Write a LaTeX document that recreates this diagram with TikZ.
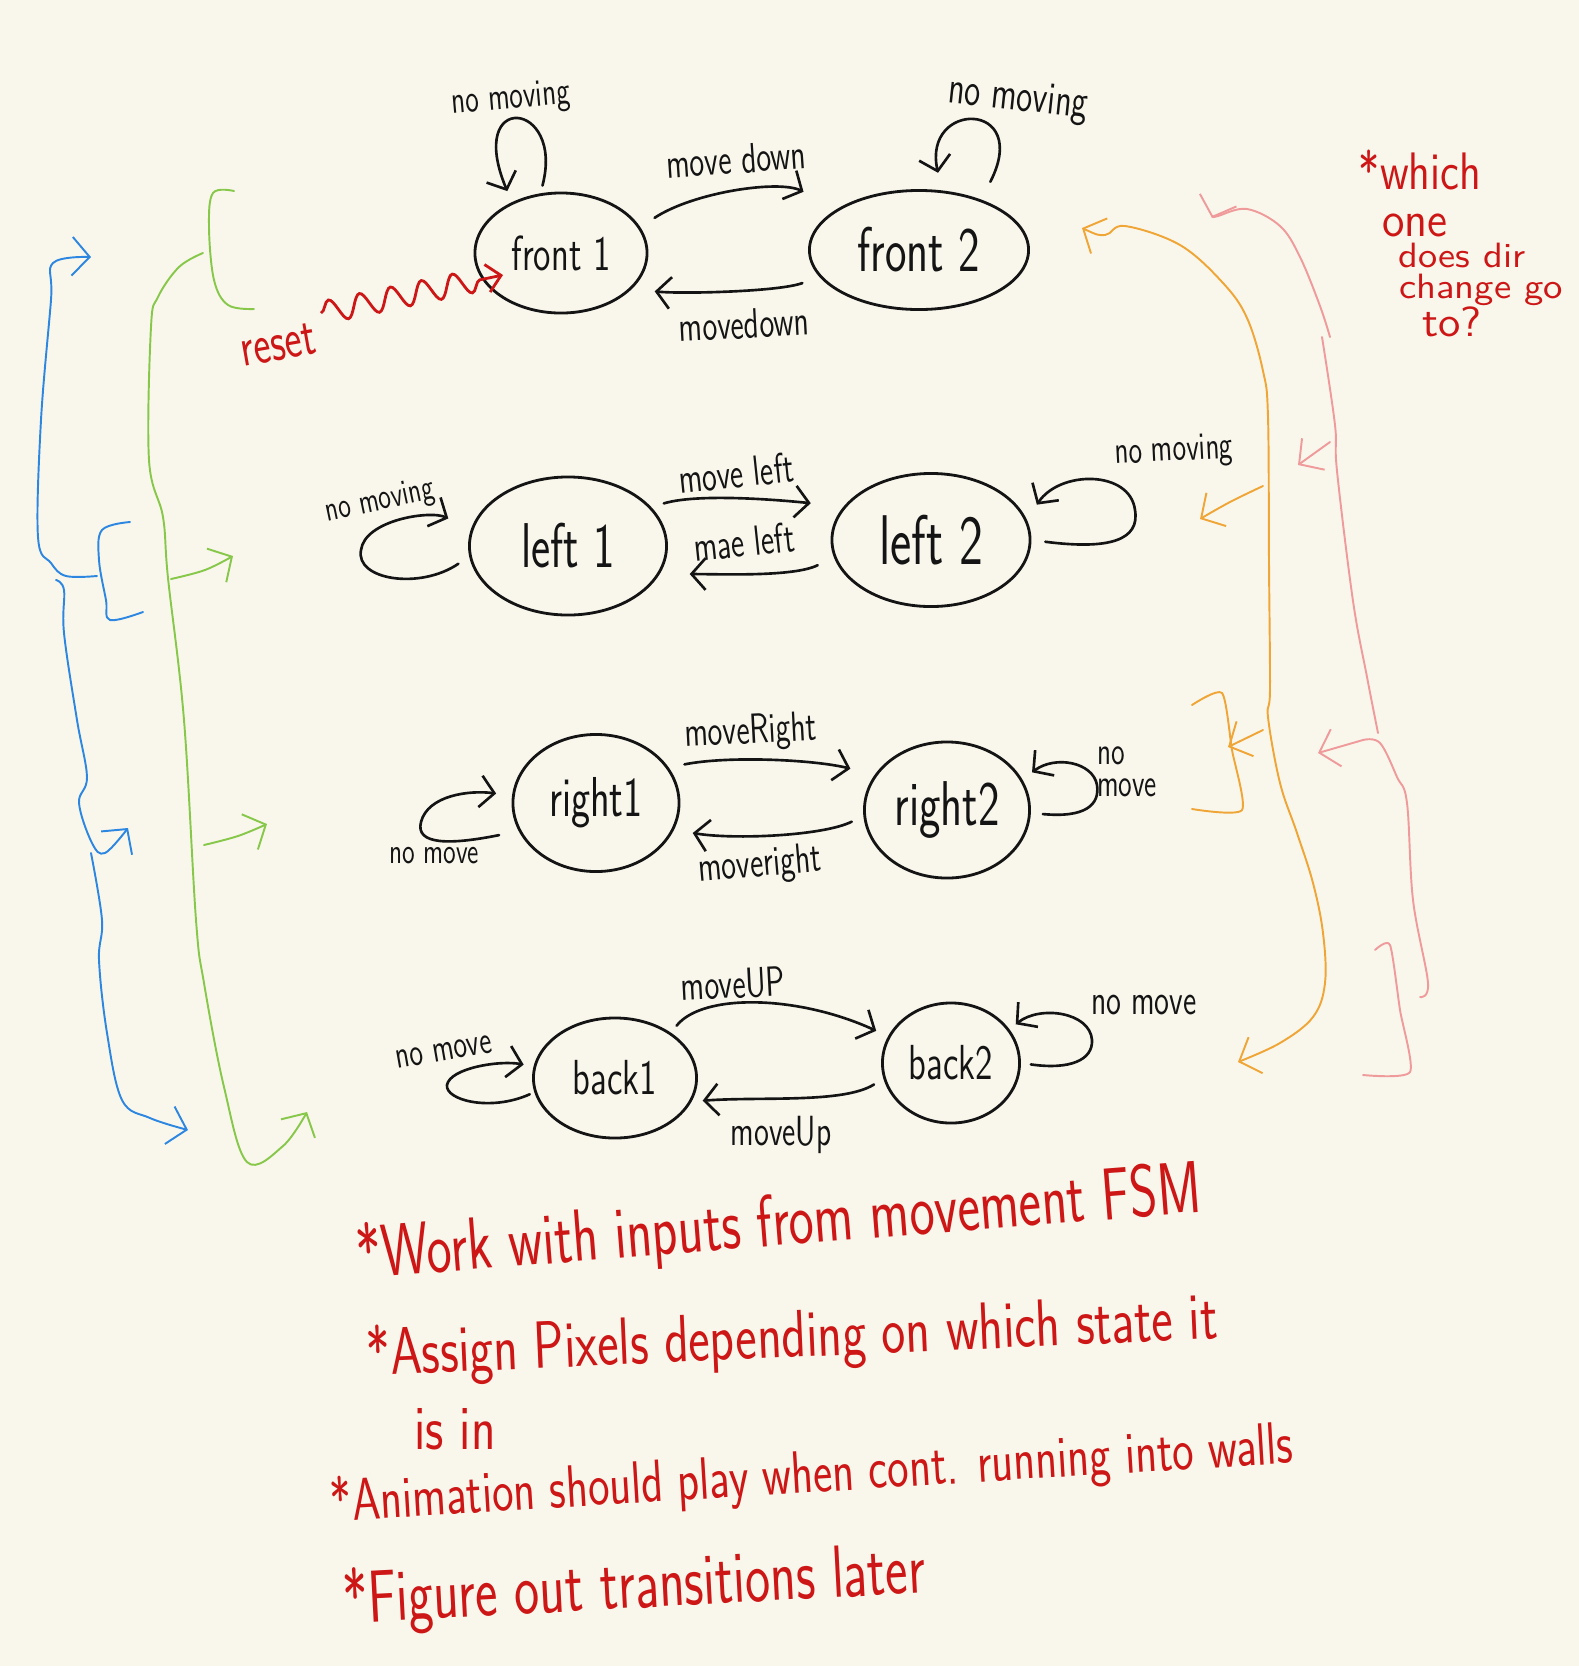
\documentclass[tikz,border=0pt]{standalone}
\usepackage{graphicx}
\usetikzlibrary{shapes.geometric,arrows.meta,decorations.pathmorphing}
\definecolor{paper}{RGB}{249,247,236}
\definecolor{ink}{RGB}{20,20,20}
\definecolor{redink}{RGB}{205,22,22}
\definecolor{blueink}{RGB}{45,135,225}
\definecolor{greenink}{RGB}{135,200,75}
\definecolor{orangeink}{RGB}{240,165,55}
\definecolor{pinkink}{RGB}{240,155,155}
\def\nar#1{\scalebox{0.72}[1]{#1}}
\def\wid#1#2{\scalebox{#1}[1]{#2}}
\def\fs#1{\fontsize{#1}{#1}\selectfont\sffamily}

\begin{document}
\begin{tikzpicture}[x=0.01cm,y=-0.01cm,
  state/.style={ellipse,draw=ink,line width=0.8pt,inner sep=0pt,text=ink},
  tr/.style={ink,line width=0.75pt,line cap=round,-{Straight Barb[length=4pt,width=9pt]}},
  lbl/.style={inner sep=0pt,text=ink,font=\fs{12}},
  note/.style={inner sep=0pt,text=redink,font=\fs{21}},
  pen/.style={line width=0.55pt,line cap=round,line join=round},
  penhead/.style={-{Straight Barb[length=5pt,width=11pt]}},
  pentail/.style={{Straight Barb[length=5pt,width=11pt]}-},
  penheads/.style={{Straight Barb[length=5pt,width=11pt]}-{Straight Barb[length=5pt,width=11pt]}}]
		%%%%% PAPER %%%%%
		\useasboundingbox (0,0) rectangle (1579,1666);
		\fill[paper] (0,0) rectangle (1579,1666);
		
		%%%%% STATES %%%%%
		\node[state,minimum width=1.72cm,minimum height=1.2cm,font=\fs{14}] (f1) at (561,253) {\nar{front 1}};
		\node[state,minimum width=2.19cm,minimum height=1.19cm,font=\fs{18}] (f2) at (919,250) {\nar{front 2}};
		\node[state,minimum width=1.97cm,minimum height=1.38cm,font=\fs{18}] (l1) at (568,546) {\nar{left 1}};
		\node[state,minimum width=1.98cm,minimum height=1.33cm,font=\fs{20}] (l2) at (931,540) {\nar{left 2}};
		\node[state,minimum width=1.66cm,minimum height=1.37cm,font=\fs{16}] (r1) at (596,803) {\nar{right1}};
		\node[state,minimum width=1.65cm,minimum height=1.36cm,font=\fs{18}] (r2) at (947,810) {\nar{right2}};
		\node[state,minimum width=1.63cm,minimum height=1.2cm,font=\fs{14}] (b1) at (615,1078) {\nar{back1}};
		\node[state,minimum width=1.37cm,minimum height=1.2cm,font=\fs{14}] (b2) at (951,1063) {\nar{back2}};
		
		%%%%% TRANSITIONS %%%%%
		\draw[tr,shorten <=0.17cm,shorten >=0.38cm] (f1.18) .. controls +(53,-35) and +(-59,-29) .. (f2.153);
		\draw[tr,shorten <=0.18cm,shorten >=0.23cm] (f2.195) .. controls +(-40,15) and +(50,5) .. (f1.-27);
		\draw[tr,shorten <=0.13cm,shorten >=0.33cm] (l1.25) .. controls +(50,-15) and +(-50,-5) .. (l2.159);
		\draw[tr,shorten <=0.18cm,shorten >=0.3cm] (l2.190) .. controls +(-40,20) and +(60,0) .. (l1.-17);
		\draw[tr,shorten <=0.16cm,shorten >=0.25cm] (r1.26) .. controls +(60,-12) and +(-60,-15) .. (r2.154);
		\draw[tr,shorten <=0.13cm,shorten >=0.19cm] (r2.184) .. controls +(-40,20) and +(60,10) .. (r1.-19);
		\draw[tr,shorten <=0.09cm,shorten >=0.13cm] (b1.39) .. controls +(32,-40) and +(-89,-41) .. (b2.157);
		\draw[tr,shorten <=0.11cm,shorten >=0.11cm] (b2.193) .. controls +(-40,25) and +(70,-5) .. (b1.-17);
		
		\node[lbl,rotate=4] (tmd1) at (736,159) {\nar{move down}};
		\node[lbl,rotate=3] (tmd2) at (744,324) {\nar{movedown}};
		\node[lbl,rotate=6] (tml1) at (736,473) {\nar{move left}};
		\node[lbl,rotate=6] (tml2) at (744,542) {\nar{mae left}};
		\node[lbl,rotate=3] (tmr1) at (751,733) {\nar{moveRight}};
		\node[lbl,rotate=5] (tmr2) at (760,866) {\nar{moveright}};
		\node[lbl,rotate=3] (tmu1) at (733,984) {\nar{moveUP}};
		\node[lbl] (tmu2) at (781,1135) {\nar{moveUp}};
		
		%%%%% SELF LOOPS %%%%%
		\draw[tr,shorten <=0.08cm,shorten >=0.12cm] (f1.109) .. controls (565,100) and (465,90) .. (f1.134);
		\draw[tr,shorten <=0.2cm,shorten >=0.18cm] (f2.39) .. controls (1032,100) and (922,100) .. (f2.69);
		\draw[tr,shorten <=0.13cm,shorten >=0.25cm] (l1.186) .. controls (420,590) and (355,580) .. (361,550) .. controls (365,520) and (430,510) .. (l1.170);
		\draw[tr,shorten <=0.14cm,shorten >=0.18cm] (l2.0) .. controls (1110,550) and (1140,540) .. (1135,510) .. controls (1130,470) and (1060,470) .. (l2.12);
		\draw[tr,shorten <=0.2cm,shorten >=0.16cm] (r1.200) .. controls (450,845) and (415,845) .. (421,822) .. controls (428,795) and (470,790) .. (r1.175);
		\draw[tr,shorten <=0.12cm,shorten >=0.12cm] (r2.-2) .. controls (1085,818) and (1100,805) .. (1097,785) .. controls (1093,762) and (1055,755) .. (r2.22);
		\draw[tr,shorten <=0.05cm,shorten >=0.1cm] (b1.190) .. controls (490,1112) and (445,1100) .. (447,1085) .. controls (450,1068) and (500,1060) .. (b1.172);
		\draw[tr,shorten <=0.1cm,shorten >=0.08cm] (b2.0) .. controls (1070,1070) and (1093,1060) .. (1092,1040) .. controls (1090,1012) and (1040,1005) .. (b2.30);
		
		\node[lbl,font=\fs{11},rotate=5] (nf1) at (511,100) {\nar{no moving}};
		\node[lbl,font=\fs{13},rotate=-6] (nf2) at (1018,100) {\nar{no moving}};
		\node[lbl,font=\fs{10},rotate=12] (nl1) at (380,502) {\nar{no moving}};
		\node[lbl,font=\fs{11},rotate=3] (nl2) at (1174,452) {\nar{no moving}};
		\node[lbl,font=\fs{10}] (nr1) at (434,856) {\nar{no move}};
		\node[lbl,font=\fs{11},align=left] (nr2) at (1127,772) {\nar{no}\\[-2pt]\nar{move}};
		\node[lbl,font=\fs{11},rotate=10] (nb1) at (444,1052) {\nar{no move}};
		\node[lbl,font=\fs{12}] (nb2) at (1144,1005) {\nar{no move}};
		
		%%%%% RESET %%%%%
		\coordinate (rst) at (321,313);
		\coordinate (rin) at (503,275);
		\draw[redink,line width=0.8pt,decorate,decoration={snake,amplitude=3.2pt,segment length=9pt,post length=6pt},-{Straight Barb[length=4pt,width=8pt]}] (rst) -- (rin);
		\node[note,font=\fs{16},rotate=10] (rlab) at (278,345) {\nar{reset}};
		
		%%%%% LEFT BRACKETS %%%%%
		\draw[pen,blueink,penhead] plot[smooth,tension=0.6] coordinates {(97,576) (66,576) (51,563) (38,537) (41,420) (51,300) (53,263) (91,257)};
		\draw[pen,blueink] plot[smooth,tension=0.6] coordinates {(130,522) (102,530) (99,560) (106,600) (110,620) (143,612)};
		\draw[pen,blueink,penhead] plot[smooth,tension=0.6] coordinates {(56,580) (64,590) (64,633) (77,720) (87,777) (79,803) (92,843) (105,853) (128,828)};
		\draw[pen,blueink,penhead] plot[smooth,tension=0.6] coordinates {(91,853) (102,920) (99,960) (107,1033) (122,1100) (150,1118) (188,1130)};
		
		\draw[pen,greenink] plot[smooth,tension=0.6] coordinates {(234,191) (213,193) (209,227) (214,280) (228,305) (254,309)};
		\draw[pen,greenink,penhead] plot[smooth,tension=0.6] coordinates {(203,253) (179,267) (158,297) (151,327) (149,460) (163,517) (168,578) (184,720) (196,920) (204,983) (224,1087) (247,1162) (283,1146) (307,1112)};
		\draw[pen,greenink,penhead] plot[smooth,tension=0.6] coordinates {(171,579) (205,570) (233,556)};
		\draw[pen,greenink,penhead] plot[smooth,tension=0.6] coordinates {(204,845) (238,836) (267,824)};
		
		%%%%% RIGHT BRACKETS %%%%%
		\draw[pen,orangeink,penheads] plot[smooth,tension=0.6] coordinates {(1082,228) (1105,235) (1125,226) (1180,245) (1223,283) (1247,318) (1263,371) (1268,417) (1269,563) (1270,689) (1268,717) (1280,783) (1297,833) (1313,883) (1323,933) (1325,983) (1313,1017) (1280,1043) (1238,1062)};
		\draw[pen,orangeink,penhead] plot[smooth,tension=0.6] coordinates {(1263,486) (1230,502) (1200,519)};
		\draw[pen,orangeink] plot[smooth,tension=0.4] coordinates {(1192,705) (1222,693) (1232,750) (1242,810) (1192,809)};
		\draw[pen,orangeink,penhead] (1263,730) -- (1228,747);
		
		\draw[pen,pinkink,pentail] plot[smooth,tension=0.6] coordinates {(1212,218) (1218,216) (1247,209) (1280,226) (1300,257) (1320,306) (1330,337)};
		\draw[pen,pinkink] plot[smooth,tension=0.6] coordinates {(1322,337) (1335,425) (1337,471) (1353,601) (1367,677) (1378,733)};
		\draw[pen,pinkink,penhead] (1330,442) -- (1298,465);
		\draw[pen,pinkink,penhead] (1363,740) -- (1318,753);
		\draw[pen,pinkink] plot[smooth,tension=0.6] coordinates {(1363,740) (1380,743) (1397,777) (1407,803) (1413,900) (1428,983) (1420,997)};
		\draw[pen,pinkink] plot[smooth,tension=0.4] coordinates {(1375,950) (1390,945) (1400,1010) (1410,1072) (1363,1075)};
		
		%%%%% NOTES %%%%%
		\node[note,font=\fs{15}] (q1) at (1420,170) {\wid{0.82}{*which}};
		\node[note,font=\fs{14}] (q2) at (1415,225) {\wid{0.93}{one}};
		\node[note,font=\fs{10}] (q3) at (1462,255) {\wid{1.09}{does dir}};
		\node[note,font=\fs{10}] (q4) at (1481,290) {\wid{1.1}{change go}};
		\node[note,font=\fs{12}] (q5) at (1452,322) {\wid{1.08}{to?}};
		
		\node[note,rotate=4.5] (n1) at (779,1225) {\nar{*Work with inputs from movement FSM}};
		\node[note,font=\fs{19},rotate=2.5] (n2) at (792,1339) {\wid{0.76}{*Assign Pixels depending on which state it}};
		\node[note,font=\fs{18}] (n3) at (455,1429) {\wid{0.8}{is in}};
		\node[note,font=\fs{17},rotate=3.5] (n4) at (812,1476) {\wid{0.76}{*Animation should play when cont. running into walls}};
		\node[note,rotate=3] (n5) at (634,1588) {\nar{*Figure out transitions later}};
	\end{tikzpicture}
\end{document}
